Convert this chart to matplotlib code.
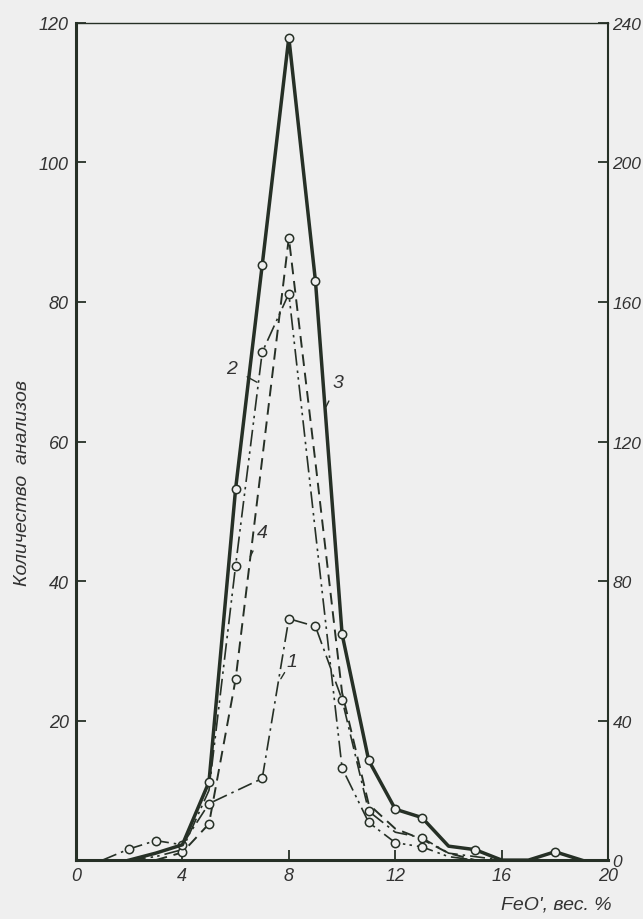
import matplotlib
matplotlib.use("Agg")
import matplotlib.pyplot as plt

# FeO content, wt.% (bins) and number of analyses for curves 1-4
c1_x = [1, 2, 3, 4, 5, 7, 8, 9, 10, 11, 12, 13, 14, 15, 16]
c1_y = [0, 1.6, 2.8, 2.2, 8.1, 11.7, 34.6, 33.5, 23.0, 7.0, 4.0, 3.2, 1.0, 0.5, 0]
c1_marks = [1, 2, 3, 4, 5, 6, 7, 8, 9, 11]

c2_x = [2, 3, 4, 5, 6, 7, 8, 9, 10, 11, 12, 13, 14, 15]
c2_y = [0, 0.5, 1.5, 10, 42.2, 72.8, 81.2, 47, 13.2, 5.4, 2.5, 1.9, 0.5, 0]
c2_marks = [4, 5, 6, 8, 9, 10, 11]

c3_x = [2, 3, 4, 5, 6, 7, 8, 9, 10, 11, 12, 13, 14, 15, 16, 17, 18, 19]
c3_y = [0, 1, 2.2, 11.2, 53.2, 85.3, 117.9, 83, 32.4, 14.3, 7.3, 6.1, 2, 1.5, 0, 0, 1.2, 0]
c3_marks = [3, 4, 5, 6, 7, 8, 9, 10, 11, 13, 16]

c4_x = [3, 4, 5, 6, 7, 8, 9, 10, 11, 12, 13, 14, 15]
c4_y = [0, 1.1, 5.2, 25.9, 57.5, 89.2, 57, 24, 8, 4.5, 3, 1, 0]
c4_marks = [1, 2, 3, 5]

x_ticks = [0, 4, 8, 12, 16, 20]
left_ticks = [0, 20, 40, 60, 80, 100, 120]
right_ticks = [0, 40, 80, 120, 160, 200, 240]

INK = "#263026"
BG = "#efefef"
FONT = ["Liberation Sans", "DejaVu Sans"]

fig = plt.figure(figsize=(6.43, 9.2), dpi=100, facecolor=BG)
ax = fig.add_axes([0.118, 0.064, 0.828, 0.91], facecolor=BG)

mk = dict(marker="o", markersize=6, markerfacecolor=BG, markeredgecolor=INK, markeredgewidth=1.1)
ax.plot(c3_x, c3_y, color=INK, lw=2.5, markevery=c3_marks, zorder=4, **mk)
ax.plot(c2_x, c2_y, color=INK, lw=1.2, linestyle=(0, (10, 3, 1.5, 2.5, 1.5, 3)),
        markevery=c2_marks, zorder=3, **mk)
ax.plot(c4_x, c4_y, color=INK, lw=1.4, linestyle=(0, (6, 3.5)), markevery=c4_marks, zorder=3, **mk)
ax.plot(c1_x, c1_y, color=INK, lw=1.2, linestyle=(0, (9, 3, 1.5, 3)), markevery=c1_marks, zorder=3, **mk)

ax.set_xlim(0, 20)
ax.set_ylim(0, 120)
ax.set_xticks(x_ticks)
ax.set_xticklabels([str(t) for t in x_ticks])
ax.set_yticks(left_ticks)
ax.set_yticklabels([str(t) if t else "" for t in left_ticks])

for side, w in [("left", 2.2), ("bottom", 2.2), ("right", 1.5), ("top", 1.0)]:
    ax.spines[side].set_linewidth(w)
    ax.spines[side].set_color(INK)
ax.tick_params(direction="in", length=7, width=1.3, color=INK, labelcolor="#333", labelsize=13, pad=5)

ax2 = ax.twinx()
ax2.set_ylim(0, 240)
ax2.set_yticks(right_ticks)
ax2.set_yticklabels([str(t) for t in right_ticks])
ax2.tick_params(direction="in", length=7, width=1.3, color=INK, labelcolor="#333", labelsize=12.5, pad=3)
for s in ax2.spines.values():
    s.set_visible(False)

for lab in ax.get_xticklabels() + ax.get_yticklabels() + ax2.get_yticklabels():
    lab.set_family(FONT)
    lab.set_style("italic")

# curve numbers with leader lines
notes = [("1", (7.7, 26), (8.1, 28.5)), ("2", (6.8, 68.5), (5.85, 70.5)),
         ("3", (9.4, 65), (9.85, 68.5)), ("4", (6.55, 43.5), (7.0, 47))]
for txt, xy, xytext in notes:
    ax.annotate(txt, xy=xy, xytext=xytext, fontsize=14, style="italic", family=FONT, color="#333",
                ha="center", va="center", arrowprops=dict(arrowstyle="-", color=INK, lw=1.0, shrinkA=6, shrinkB=0))

fig.text(0.035, 0.475, "Количество  анализов", rotation=90, ha="center", va="center",
         fontsize=14, style="italic", family=FONT, color="#333")
fig.text(0.865, 0.016, "FeO', вес. %", ha="center", va="center",
         fontsize=14, style="italic", family=FONT, color="#333")

fig.savefig("out.png", dpi=100, facecolor=BG)
